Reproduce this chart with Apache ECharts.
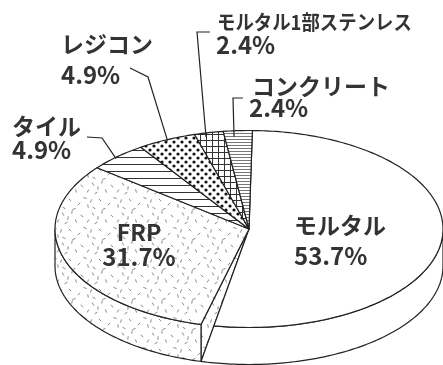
<!DOCTYPE html>
<html>
<head>
<meta charset="utf-8">
<script src="https://cdn.jsdelivr.net/npm/echarts@6/dist/echarts.min.js"></script>
<style>
  html, body { margin: 0; padding: 0; background: #fff; }
  #chart { width: 443px; height: 365px; }
</style>
</head>
<body>
<div id="chart"></div>
<script>
// Share of waterproofing/finish materials (%)
const categories = ['モルタル', 'FRP', 'タイル', 'レジコン', 'モルタル1部ステンレス', 'コンクリート'];
const shares = [53.7, 31.7, 4.9, 4.9, 2.4, 2.4];

// Label placement: name / percent anchor, alignment, leader elbow, and where the
// leader meets its slice ([fraction across the slice, fraction of radius]).
const labelSpots = [
  { name: [294, 225], pct: [294, 256], align: 'left' },
  { name: [139, 232], pct: [139, 257], align: 'center' },
  { name: [12, 126], pct: [12, 150], align: 'left', elbow: [[87, 137], [102, 138]], tip: [0.44, 0.99] },
  { name: [61, 44], pct: [61, 75], align: 'left', elbow: [[130, 68], [148, 77]], tip: [0.50, 0.99] },
  { name: [217, 22], pct: [216, 45], align: 'left', elbow: [[210, 32], [197, 32]], tip: [0.34, 0.96], nameSize: 20, squeeze: 0.92 },
  { name: [252, 86], pct: [249, 108], align: 'left', elbow: [[243, 98], [233, 98]], tip: [0.34, 0.94] }
];

// Tilted-disc geometry (top ellipse, extrusion depth, start angle in degrees clockwise from 12 o'clock)
const PIE = { cx: 249, cy: 229, rx: 194, ry: 98.5, depth: 37, start: 1 };
const FRONT = [90, 270];
const INK = '#222';
const TEXT = '#333';
const FONT = "'Noto Sans CJK JP', 'Noto Sans', sans-serif";

function tile(w, h, draw) {
  const c = document.createElement('canvas');
  c.width = w; c.height = h;
  const g = c.getContext('2d');
  g.fillStyle = '#fff';
  g.fillRect(0, 0, w, h);
  draw(g);
  return c;
}

// Hatch / stipple fills, one per slice
const fills = [
  '#ffffff',
  { image: tile(30, 30, g => {
      const dashes = [[3,4,60],[12,2,100],[22,6,40],[28,11,120],[6,13,150],[16,11,70],[25,18,20],
                      [1,21,110],[10,20,45],[19,24,135],[28,26,80],[4,28,30],[14,29,160],[8,8,95]];
      g.strokeStyle = '#8a8a8a'; g.lineWidth = 1;
      dashes.forEach(([x, y, a]) => {
        const k = a * Math.PI / 180, dx = Math.cos(k) * 1.7, dy = Math.sin(k) * 1.7;
        g.beginPath(); g.moveTo(x - dx, y - dy); g.lineTo(x + dx, y + dy); g.stroke();
      });
    }), repeat: 'repeat' },
  { image: tile(8, 7, g => {
      g.strokeStyle = '#333'; g.lineWidth = 1;
      g.beginPath(); g.moveTo(0, 3.5); g.lineTo(8, 3.5); g.stroke();
    }), repeat: 'repeat' },
  { image: tile(8, 8, g => {
      g.fillStyle = '#111';
      [[2, 2], [6, 6]].forEach(([x, y]) => { g.beginPath(); g.arc(x, y, 1.6, 0, Math.PI * 2); g.fill(); });
    }), repeat: 'repeat' },
  { image: tile(6, 6, g => {
      g.strokeStyle = '#333'; g.lineWidth = 1;
      g.beginPath(); g.moveTo(0, 2.5); g.lineTo(6, 2.5); g.moveTo(2.5, 0); g.lineTo(2.5, 6); g.stroke();
    }), repeat: 'repeat' },
  { image: tile(4, 3, g => {
      g.strokeStyle = '#777'; g.lineWidth = 1;
      g.beginPath(); g.moveTo(0, 1.5); g.lineTo(4, 1.5); g.stroke();
    }), repeat: 'repeat' }
];

const total = shares.reduce((s, v) => s + v, 0);
const bounds = [];
(function () {
  let acc = 0;
  shares.forEach(v => {
    const a = PIE.start + acc / total * 360;
    acc += v;
    bounds.push([a, PIE.start + acc / total * 360]);
  });
})();

function rimPt(t, r, dy) {
  const k = t * Math.PI / 180;
  return [PIE.cx + PIE.rx * r * Math.sin(k), PIE.cy - PIE.ry * r * Math.cos(k) + (dy || 0)];
}
function arc(t1, t2, dy) {
  const n = Math.max(2, Math.ceil(Math.abs(t2 - t1)));
  const pts = [];
  for (let j = 0; j <= n; j++) pts.push(rimPt(t1 + (t2 - t1) * j / n, 1, dy));
  return pts;
}
function inFront(t) { return t > FRONT[0] && t < FRONT[1]; }
// angle where the line from the centre to the lower rim point at t crosses the top rim
function rayRim(t) {
  const p = rimPt(t, 1, PIE.depth);
  const dx = p[0] - PIE.cx, dy = p[1] - PIE.cy;
  const s = 1 / Math.sqrt((dx / PIE.rx) ** 2 + (dy / PIE.ry) ** 2);
  let d = Math.atan2(dx * s / PIE.rx, -dy * s / PIE.ry) * 180 / Math.PI;
  while (d < t - 180) d += 360;
  while (d > t + 180) d -= 360;
  return d;
}

function renderItem(params) {
  const i = params.dataIndex;
  const [a, b] = bounds[i];
  const fill = fills[i];
  const line = { stroke: INK, lineWidth: 1.2, lineJoin: 'round' };
  const c = [PIE.cx, PIE.cy];
  const kids = [];
  const bTop = (i < bounds.length - 1 && inFront(b)) ? rayRim(b) : b;

  // top face
  kids.push({ type: 'polygon', z2: 30, shape: { points: [c].concat(arc(a, bTop)) },
              style: Object.assign({ fill: fill }, line) });

  // outer wall on the near side
  const w1 = Math.max(a, FRONT[0]), w2 = Math.min(b, FRONT[1]);
  if (w2 > w1) {
    const pts = arc(w1, Math.min(bTop, FRONT[1])).concat(arc(w2, w1, PIE.depth));
    kids.push({ type: 'polygon', z2: 20, shape: { points: pts }, style: Object.assign({ fill: fill }, line) });
  }

  // visible cut face at the start of a slice that begins on the near side
  if (i > 0 && inFront(a)) {
    kids.push({ type: 'polygon', z2: 10,
                shape: { points: [c, rimPt(a, 1), rimPt(a, 1, PIE.depth)] },
                style: Object.assign({ fill: fill }, line) });
  }

  // labels
  const spot = labelSpots[i];
  const nameSize = spot.nameSize || 23;
  kids.push({ type: 'text', z2: 50, x: spot.name[0], y: spot.name[1], scaleX: spot.squeeze || 1,
              style: { text: categories[i], fill: TEXT, fontSize: nameSize, fontWeight: 'bold', fontFamily: FONT,
                       align: spot.align, verticalAlign: 'middle' } });
  kids.push({ type: 'text', z2: 50, x: spot.pct[0], y: spot.pct[1],
              style: { text: shares[i].toFixed(1) + '%', fill: TEXT, fontSize: 24, fontWeight: 'bold', fontFamily: FONT,
                       align: spot.align, verticalAlign: 'middle' } });

  if (spot.elbow) {
    const tipAngle = a + (b - a) * spot.tip[0];
    const pts = spot.elbow.concat([rimPt(tipAngle, spot.tip[1])]);
    kids.push({ type: 'polyline', z2: 40, shape: { points: pts },
                style: { stroke: INK, lineWidth: 1.2, fill: null } });
  }
  return { type: 'group', children: kids };
}

const chart = echarts.init(document.getElementById('chart'), null, { renderer: 'canvas' });
chart.setOption({
  animation: false,
  backgroundColor: '#fff',
  series: [{
    type: 'custom',
    coordinateSystem: 'none',
    silent: true,
    renderItem: renderItem,
    data: shares
  }]
});
</script>
</body>
</html>
